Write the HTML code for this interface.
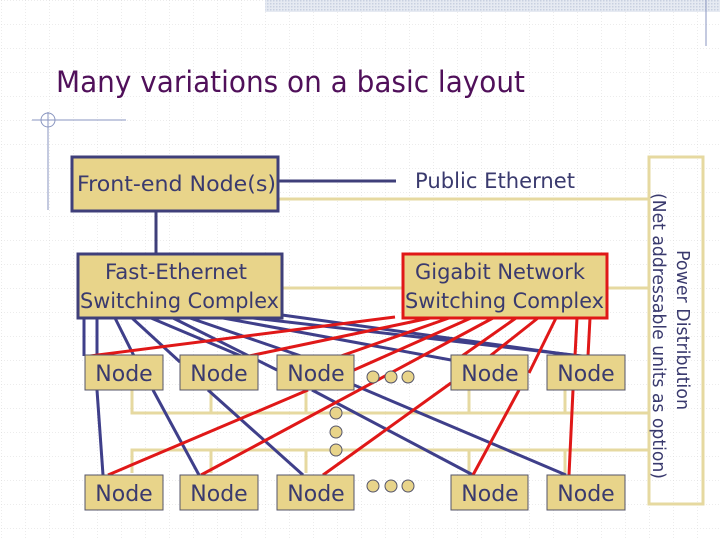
<!DOCTYPE html>
<html><head><meta charset="utf-8"><style>
html,body{margin:0;padding:0;background:#fff}
svg{display:block}
text{font-family:"DejaVu Sans","Liberation Sans",sans-serif;fill:#3a3a6e}
</style></head><body>
<svg width="720" height="540" viewBox="0 0 720 540" xmlns="http://www.w3.org/2000/svg">
<defs>
<pattern id="g" width="24" height="24" patternUnits="userSpaceOnUse" x="1" y="0">
<path d="M0 0H24M0 0V24" stroke="#d8d8d8" stroke-width="1" stroke-dasharray="1 2" fill="none"/>
</pattern>
<pattern id="h" width="3" height="3" patternUnits="userSpaceOnUse">
<rect width="3" height="3" fill="#e6eaf2"/><rect width="1.5" height="1.5" fill="#c8d0e0"/>
</pattern>
</defs>
<rect width="720" height="540" fill="url(#g)"/>
<rect x="265" y="0" width="455" height="12" fill="url(#h)"/>
<line x1="706" y1="0" x2="706" y2="46" stroke="#8a96c0" stroke-width="1"/>
<text x="56" y="92" textLength="469" lengthAdjust="spacingAndGlyphs" style="font-size:29px;fill:#50105a">Many variations on a basic layout</text>
<line x1="32" y1="120" x2="126" y2="120" stroke="#8a96c0"/>
<line x1="48" y1="112" x2="48" y2="210" stroke="#8a96c0"/>
<circle cx="48" cy="120" r="7" fill="none" stroke="#8a96c0"/>

<g stroke="#e6d9a0" stroke-width="3" fill="none">
<line x1="278" y1="199" x2="648" y2="199"/>
<line x1="282" y1="288" x2="648" y2="288"/>
<polyline points="132,390 132,413 648,413"/>
<polyline points="132,473 132,450 648,450"/>
<line x1="211" y1="390" x2="211" y2="413"/><line x1="211" y1="473" x2="211" y2="450"/>
<line x1="306" y1="390" x2="306" y2="413"/><line x1="306" y1="473" x2="306" y2="450"/>
<line x1="469" y1="390" x2="469" y2="413"/><line x1="469" y1="473" x2="469" y2="450"/>
<line x1="565" y1="390" x2="565" y2="413"/><line x1="565" y1="473" x2="565" y2="450"/>
</g>
<rect x="649" y="157" width="54" height="347" fill="none" stroke="#e6d9a0" stroke-width="3"/>
<text transform="translate(677,250) rotate(90)" textLength="160" lengthAdjust="spacingAndGlyphs" style="font-size:18px">Power Distribution</text>
<text transform="translate(653,193) rotate(90)" textLength="286" lengthAdjust="spacingAndGlyphs" style="font-size:18px">(Net addressable units as option)</text>

<line x1="278" y1="181" x2="396" y2="181" stroke="#3f3f7a" stroke-width="3"/>
<line x1="156" y1="211" x2="156" y2="254" stroke="#3f3f7a" stroke-width="3"/>
<rect x="72" y="157" width="206" height="54" fill="#e8d48a" stroke="#3f3f7a" stroke-width="3"/>
<text x="77" y="191" textLength="199" lengthAdjust="spacingAndGlyphs" style="font-size:21px">Front-end Node(s)</text>
<text x="415" y="188" textLength="160" lengthAdjust="spacingAndGlyphs" style="font-size:21px">Public Ethernet</text>

<g stroke="#3f3f8a" stroke-width="3" fill="none">
<line x1="84" y1="318" x2="84" y2="356"/>
<line x1="97" y1="318" x2="97" y2="356"/>
<line x1="115" y1="318" x2="134" y2="356"/>
<line x1="132" y1="318" x2="180" y2="362"/>
<line x1="151" y1="318" x2="241" y2="356"/>
<line x1="173" y1="318" x2="277" y2="370"/>
<line x1="190" y1="318" x2="301" y2="356"/>
<line x1="223" y1="318" x2="451" y2="360"/>
<line x1="253" y1="318" x2="582" y2="356"/>
<line x1="282" y1="315" x2="578" y2="356"/>
<line x1="97" y1="390" x2="103" y2="475"/>
<line x1="153" y1="390" x2="199" y2="475"/>
<line x1="208" y1="390" x2="303" y2="475"/>
<line x1="312" y1="390" x2="473" y2="475"/>
<line x1="354" y1="385" x2="566" y2="475"/>
</g>
<g stroke="#e01818" stroke-width="3" fill="none">
<line x1="395" y1="317" x2="90" y2="356"/>
<line x1="430" y1="318" x2="249" y2="356"/>
<line x1="449" y1="318" x2="341" y2="356"/>
<line x1="471" y1="318" x2="354" y2="370"/>
<line x1="493" y1="318" x2="201" y2="475"/>
<line x1="516" y1="318" x2="462" y2="356"/>
<line x1="538" y1="318" x2="490" y2="356"/>
<line x1="556" y1="318" x2="529" y2="373"/>
<line x1="577" y1="318" x2="575" y2="356"/>
<line x1="590" y1="318" x2="588" y2="356"/>
<line x1="308" y1="390" x2="108" y2="475"/>
<line x1="451" y1="383" x2="323" y2="475"/>
<line x1="519" y1="390" x2="473" y2="475"/>
<line x1="573" y1="390" x2="569" y2="475"/>
</g>

<rect x="78" y="254" width="204" height="64" fill="#e8d48a" stroke="#3f3f7a" stroke-width="3"/>
<text x="105" y="279" textLength="142" lengthAdjust="spacingAndGlyphs" style="font-size:21px">Fast-Ethernet</text>
<text x="80" y="308" textLength="199" lengthAdjust="spacingAndGlyphs" style="font-size:21px">Switching Complex</text>
<rect x="403" y="254" width="204" height="64" fill="#e8d48a" stroke="#e01818" stroke-width="3"/>
<text x="415" y="279" textLength="170" lengthAdjust="spacingAndGlyphs" style="font-size:21px">Gigabit Network</text>
<text x="405" y="308" textLength="199" lengthAdjust="spacingAndGlyphs" style="font-size:21px">Switching Complex</text>

<g fill="#e8d48a" stroke="#55556a" stroke-width="1">
<rect x="85" y="355" width="78" height="35"/><rect x="180" y="355" width="78" height="35"/><rect x="277" y="355" width="77" height="35"/><rect x="451" y="355" width="77" height="35"/><rect x="547" y="355" width="78" height="35"/>
<rect x="85" y="475" width="78" height="35"/><rect x="180" y="475" width="78" height="35"/><rect x="277" y="475" width="77" height="35"/><rect x="451" y="475" width="77" height="35"/><rect x="547" y="475" width="78" height="35"/>
</g>
<g text-anchor="middle" style="font-size:22px">
<text x="124" y="381">Node</text><text x="219" y="381">Node</text><text x="316" y="381">Node</text><text x="490" y="381">Node</text><text x="586" y="381">Node</text>
<text x="124" y="501">Node</text><text x="219" y="501">Node</text><text x="316" y="501">Node</text><text x="490" y="501">Node</text><text x="586" y="501">Node</text>
</g>
<g fill="#e8d48a" stroke="#55556a" stroke-width="1">
<circle cx="373" cy="377" r="6"/><circle cx="391" cy="377" r="6"/><circle cx="408" cy="377" r="6"/>
<circle cx="336" cy="413" r="6"/><circle cx="336" cy="432" r="6"/><circle cx="336" cy="450" r="6"/>
<circle cx="373" cy="486" r="6"/><circle cx="391" cy="486" r="6"/><circle cx="408" cy="486" r="6"/>
</g>
</svg>
</body></html>
